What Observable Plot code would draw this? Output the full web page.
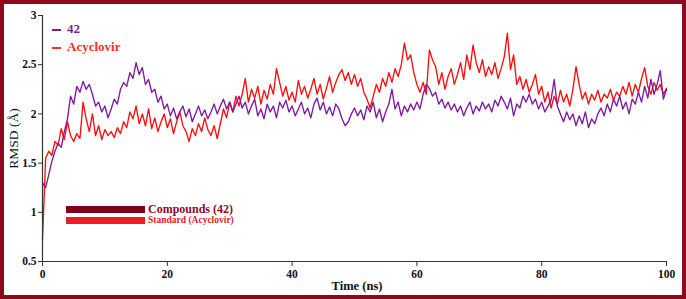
<!DOCTYPE html>
<html>
<head>
<meta charset="utf-8">
<script src="https://cdn.jsdelivr.net/npm/d3@7"></script>
<script src="https://cdn.jsdelivr.net/npm/@observablehq/plot@0.6"></script>
<style>
  html, body { margin: 0; padding: 0; background: #fff; }
  #wrap { position: relative; width: 686px; height: 299px; overflow: hidden; font-family: "Liberation Serif", "Times New Roman", serif; }
  #frame { position: absolute; left: 0; top: 0; width: 686px; height: 299px; box-sizing: border-box; border: 4px solid #8b0a1e; pointer-events: none; }
  .lbl { position: absolute; white-space: nowrap; font-weight: bold; line-height: 1; }
  .bar { position: absolute; }
</style>
</head>
<body>
<div id="wrap">
  <div id="chart"></div>
  <div class="lbl" style="left:52px; top:22px; font-size:13px; color:#7b1f95;"><span style="display:inline-block;width:9px;height:2px;background:#7b1f95;vertical-align:middle;margin-right:6px;"></span>42</div>
  <div class="lbl" style="left:52px; top:40px; font-size:13px; color:#ff2a2a;"><span style="display:inline-block;width:9px;height:2px;background:#ff2a2a;vertical-align:middle;margin-right:6px;"></span>Acyclovir</div>
  <div class="bar" style="left:66px; top:206px; width:79px; height:7px; background:#800018;"></div>
  <div class="bar" style="left:66px; top:217px; width:79px; height:7px; background:#ee1c25;"></div>
  <div class="lbl" style="left:148px; top:203px; font-size:12px; color:#8b0a1e;">Compounds (42)</div>
  <div class="lbl" style="left:148px; top:216px; font-size:9.5px; color:#e8202a;">Standard (Acyclovir)</div>
  <div class="lbl" style="left:302px; top:280px; width:110px; text-align:center; font-size:12.5px; color:#111;">Time (ns)</div>
  <div class="lbl" style="left:-36px; top:131px; width:100px; height:15px; text-align:center; font-size:13.5px; font-weight:normal; color:#111; transform:rotate(-90deg);">RMSD (Å)</div>
  <div id="frame"></div>
</div>
<script>
const xTicks = [0, 20, 40, 60, 80, 100];
const yTicks = [0.5, 1, 1.5, 2, 2.5, 3];
const step = 0.5; // ns between samples

const rmsd42 = [
  1.30,1.25,1.38,1.52,1.62,1.70,1.66,1.82,1.95,2.18,
  2.10,2.28,2.22,2.33,2.25,2.30,2.20,2.08,2.12,2.02,
  2.08,1.96,2.05,2.15,2.10,2.25,2.32,2.28,2.42,2.36,
  2.52,2.40,2.47,2.30,2.35,2.22,2.25,2.12,2.18,2.05,
  2.10,1.98,2.06,1.95,2.02,2.08,1.97,2.05,1.92,2.00,
  2.08,1.98,2.04,1.95,2.02,2.10,2.00,2.08,2.15,2.05,
  2.12,2.02,2.10,2.18,2.06,2.12,2.00,2.08,2.15,1.98,
  2.05,1.95,2.10,2.02,2.08,1.96,2.12,2.06,2.14,2.02,
  2.08,1.98,2.05,2.12,2.00,2.06,1.96,2.10,2.16,2.04,
  2.12,2.00,2.07,1.98,2.10,2.05,1.95,1.88,1.92,2.00,
  2.06,1.98,2.04,1.94,2.08,2.02,2.12,1.96,2.05,1.92,
  2.02,2.10,2.25,2.05,2.12,1.98,2.08,2.02,2.10,2.04,
  2.12,2.05,2.20,2.30,2.26,2.18,2.22,2.10,2.15,2.06,
  2.12,2.04,2.10,2.02,2.08,1.98,2.06,2.12,2.00,2.08,
  2.03,2.12,2.05,2.10,2.02,2.14,2.08,2.18,2.12,2.05,
  2.16,1.98,2.10,2.06,2.18,2.12,2.20,2.10,2.15,2.05,
  2.12,2.02,2.08,2.14,2.35,2.08,2.00,1.92,2.02,1.94,
  2.00,1.88,1.98,1.90,2.02,1.86,1.95,1.90,2.00,2.06,
  1.98,2.10,2.02,2.15,2.08,2.18,2.05,2.12,2.00,2.15,
  2.10,2.22,2.12,2.28,2.16,2.35,2.20,2.30,2.44,2.15,
  2.25
];

const rmsdAcyclovir = [
  0.72,1.55,1.62,1.58,1.72,1.68,1.85,1.74,1.92,1.78,
  1.72,1.80,1.75,2.12,1.95,1.82,2.00,1.78,1.88,1.74,
  1.84,1.78,1.82,1.76,1.86,1.80,1.92,1.86,2.02,1.95,
  2.08,1.90,2.00,1.88,2.05,1.85,1.96,1.82,1.92,2.00,
  1.86,1.95,1.80,1.92,2.02,1.88,1.82,1.72,1.85,1.78,
  1.90,1.82,1.96,1.84,1.78,1.88,1.75,1.90,2.05,1.96,
  2.12,2.02,2.18,2.08,2.20,2.36,2.12,2.25,2.16,2.28,
  2.10,2.24,2.15,2.30,2.20,2.46,2.32,2.18,2.28,2.14,
  2.22,2.12,2.34,2.20,2.28,2.16,2.25,2.36,2.20,2.30,
  2.15,2.26,2.38,2.22,2.32,2.40,2.45,2.34,2.42,2.30,
  2.40,2.28,2.36,2.22,2.15,2.06,2.18,2.30,2.22,2.36,
  2.28,2.42,2.32,2.46,2.38,2.50,2.72,2.55,2.60,2.42,
  2.30,2.22,2.32,2.20,2.65,2.55,2.48,2.30,2.42,2.25,
  2.38,2.46,2.30,2.40,2.52,2.35,2.60,2.45,2.70,2.52,
  2.42,2.55,2.38,2.48,2.40,2.52,2.36,2.46,2.58,2.82,
  2.45,2.60,2.30,2.38,2.25,2.35,2.22,2.30,2.40,2.20,
  2.28,2.12,2.22,2.06,2.18,2.10,2.24,2.12,2.20,2.08,
  2.25,2.48,2.30,2.15,2.22,2.10,2.20,2.14,2.24,2.12,
  2.20,2.16,2.25,2.14,2.22,2.18,2.28,2.20,2.32,2.18,
  2.30,2.22,2.36,2.47,2.28,2.20,2.32,2.24,2.30,2.20,
  2.26
];

const s42 = rmsd42.map((v, i) => ({t: i * step, v}));
const sAcy = rmsdAcyclovir.map((v, i) => ({t: i * step, v}));

const chart = Plot.plot({
  width: 686,
  height: 299,
  marginLeft: 42,
  marginRight: 20,
  marginTop: 15,
  marginBottom: 38,
  style: {fontFamily: "Liberation Serif, Times New Roman, serif", fontSize: "11px", background: "transparent", color: "#111"},
  x: {domain: [0, 100]},
  y: {domain: [0.5, 3]},
  marks: [
    Plot.line(sAcy, {x: "t", y: "v", stroke: "#ff0d0d", strokeWidth: 1.35}),
    Plot.line(s42, {x: "t", y: "v", stroke: "#7d1a9e", strokeWidth: 1.35}),
    Plot.ruleX([0], {stroke: "#333", strokeWidth: 1.2}),
    Plot.ruleY([0.5], {stroke: "#333", strokeWidth: 1.2}),
    Plot.axisY({ticks: yTicks, tickFormat: d => String(d), tickSize: 4, tickPadding: 2, fontWeight: "bold", fontSize: 11.5, label: null, stroke: "#333"}),
    Plot.axisX({ticks: xTicks, tickFormat: d => String(d), tickSize: 5, tickPadding: 3, fontWeight: "bold", fontSize: 11.5, label: null, stroke: "#333"})
  ]
});
document.getElementById("chart").appendChild(chart);
</script>
</body>
</html>
